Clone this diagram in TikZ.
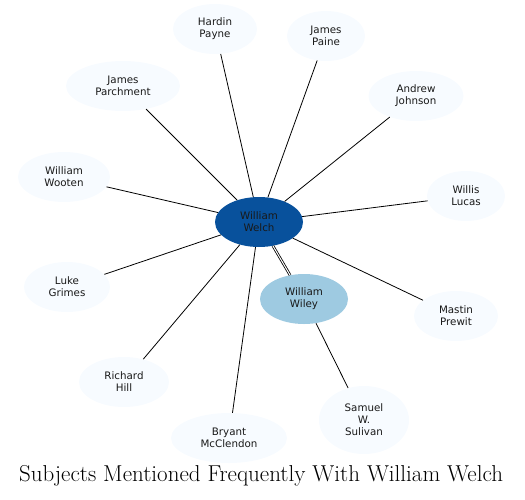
\documentclass[tikz,border=0pt]{standalone}
\usepackage{fontspec}
\setsansfont{DejaVu Sans}
\usepackage{tikz}
\usetikzlibrary{shapes.geometric}
\definecolor{hubblue}{HTML}{08519C}
\definecolor{pairblue}{HTML}{9ECAE1}
\definecolor{leafblue}{HTML}{F7FBFF}
\tikzset{
	person/.style={ellipse, fill=leafblue, inner sep=0pt, minimum height=50pt, align=center, text=black!90, font=\sffamily\fontsize{10.3}{12}\selectfont},
	tie/.style={line width=0.8pt}
}

\begin{document}
\begin{tikzpicture}[x=1pt,y=-1pt]
	\useasboundingbox (0,0) rectangle (525,499);
	%\draw [help lines, step=50] (0,0) grid (525,499);
	\node [person, fill=hubblue, minimum width=88pt] (welch) at (259,222) {William\\Welch};
	\node [person, fill=pairblue, minimum width=88pt] (wiley) at (304,299) {William\\Wiley};
	\node [person, minimum width=84pt] (payne) at (215,29) {Hardin\\Payne};
	\node [person, minimum width=78pt] (paine) at (326,36) {James\\Paine};
	\node [person, minimum width=114pt] (parchment) at (123,86) {James\\Parchment};
	\node [person, minimum width=95pt] (johnson) at (416,96) {Andrew\\Johnson};
	\node [person, minimum width=92pt] (wooten) at (64,177) {William\\Wooten};
	\node [person, minimum width=78pt] (lucas) at (466,196) {Willis\\Lucas};
	\node [person, minimum width=86pt] (grimes) at (67,287) {Luke\\Grimes};
	\node [person, minimum width=84pt] (prewit) at (456,316) {Mastin\\Prewit};
	\node [person, minimum width=90pt] (hill) at (124,382) {Richard\\Hill};
	\node [person, minimum width=116pt] (mcclendon) at (229,438) {Bryant\\McClendon};
	\node [person, minimum width=90pt, minimum height=68pt] (sulivan) at (364,420) {Samuel\\W.\\Sulivan};

	\draw [tie] (welch) -- (payne);
	\draw [tie] (welch) -- (paine);
	\draw [tie] (welch) -- (parchment);
	\draw [tie] (welch) -- (johnson);
	\draw [tie] (welch) -- (wooten);
	\draw [tie] (welch) -- (lucas);
	\draw [tie] (welch) -- (grimes);
	\draw [tie] (welch) -- (prewit);
	\draw [tie] (welch) -- (hill);
	\draw [tie] (welch) -- (mcclendon);
	\draw [tie, double, double distance=1pt] (welch) -- (wiley);
	\draw [tie] (wiley) -- (sulivan);

	\node (title) at (261,476) {\fontsize{23}{26}\selectfont Subjects Mentioned Frequently With William Welch};
\end{tikzpicture}
\end{document}
